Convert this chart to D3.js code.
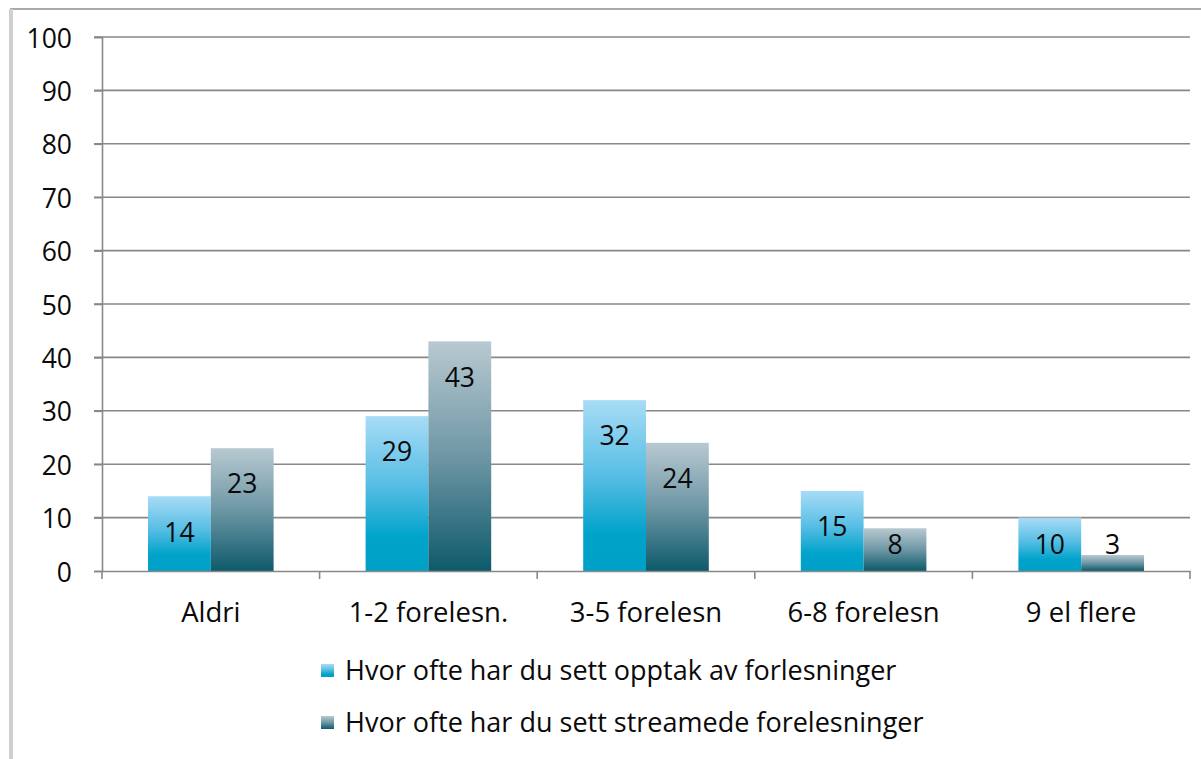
<!doctype html>
<html lang="no">
  <head>
    <meta charset="UTF-8" />
    <title>Forelesninger</title>
    <script src="https://d3js.org/d3.v7.min.js"></script>
    <style>
      body,
      html {
        margin: 0;
        padding: 0;
        background: #fff;
        overflow: hidden;
      }
      svg {
        display: block;
        font-family: "Open Sans", "Noto Sans", sans-serif;
      }
    </style>
  </head>
  <body>
    <svg id="chart" width="1201" height="759"></svg>
    <script>
      // chart data
      const categories = ["Aldri", "1-2 forelesn.", "3-5 forelesn", "6-8 forelesn", "9 el flere"];
      const seriesNames = [
        "Hvor ofte har du sett opptak av forlesninger",
        "Hvor ofte har du sett streamede forelesninger"
      ];
      const opptak = [14, 29, 32, 15, 10];
      const streamet = [23, 43, 24, 8, 3];
      const yTicks = [0, 10, 20, 30, 40, 50, 60, 70, 80, 90, 100];

      const svg = d3.select("#chart");
      const margin = { left: 102, right: 11, top: 37, bottom: 188 };
      const width = 1201;
      const height = 759;
      const fontSize = 26.5;

      // gradients for the two series
      const defs = svg.append("defs");
      const grads = [
        { id: "g0", stops: [["0%", "#a8dcf6"], ["45%", "#56bde4"], ["78%", "#00a3ca"], ["100%", "#00a0c6"]] },
        { id: "g1", stops: [["0%", "#b8c9d1"], ["50%", "#6e97a5"], ["100%", "#0d5a6b"]] }
      ];
      grads.forEach((g) => {
        const lg = defs
          .append("linearGradient")
          .attr("id", g.id)
          .attr("x1", 0)
          .attr("y1", 0)
          .attr("x2", 0)
          .attr("y2", 1);
        g.stops.forEach(([o, c]) => lg.append("stop").attr("offset", o).attr("stop-color", c));
      });

      // outer frame (top and left only visible)
      svg.append("line").attr("x1", 10).attr("x2", width).attr("y1", 9).attr("y2", 9)
        .attr("stroke", "#aaa").attr("stroke-width", 2);
      svg.append("line").attr("x1", 11).attr("x2", 11).attr("y1", 9).attr("y2", height)
        .attr("stroke", "#cfcfcf").attr("stroke-width", 4);

      const x0 = d3
        .scaleBand()
        .domain(categories)
        .range([margin.left, width - margin.right]);
      const x1 = d3
        .scaleBand()
        .domain([0, 1])
        .range([46, x0.bandwidth() - 46]);
      const y = d3
        .scaleLinear()
        .domain([0, 100])
        .range([height - margin.bottom, margin.top]);

      // gridlines
      svg
        .append("g")
        .selectAll("line")
        .data(yTicks.slice(1))
        .join("line")
        .attr("x1", margin.left - 8)
        .attr("x2", width - margin.right)
        .attr("y1", (d) => y(d))
        .attr("y2", (d) => y(d))
        .attr("stroke", "#888")
        .attr("stroke-width", 1.6);

      // bars
      const groups = svg
        .append("g")
        .selectAll("g")
        .data(categories)
        .join("g")
        .attr("transform", (d) => `translate(${x0(d)},0)`);

      const series = [opptak, streamet];
      groups.each(function (cat, i) {
        const g = d3.select(this);
        series.forEach((vals, s) => {
          const v = vals[i];
          g.append("rect")
            .attr("x", x1(s))
            .attr("width", x1.bandwidth())
            .attr("y", y(v))
            .attr("height", y(0) - y(v))
            .attr("fill", `url(#${grads[s].id})`);
          g.append("text")
            .attr("x", x1(s) + x1.bandwidth() / 2)
            .attr("y", Math.min(y(v) + 36, y(0) - 26))
            .attr("dy", "0.35em")
            .attr("text-anchor", "middle")
            .attr("font-size", fontSize)
            .attr("fill", "#0a0a0a")
            .text(v);
        });
      });

      // y axis
      const yAxis = svg
        .append("g")
        .attr("transform", `translate(${margin.left},0)`)
        .call(d3.axisLeft(y).tickValues(yTicks).tickSize(8).tickPadding(22));
      yAxis.select(".domain").attr("stroke", "#888").attr("stroke-width", 1.6);
      yAxis.selectAll(".tick line").attr("stroke", "#888").attr("stroke-width", 1.6);
      yAxis.selectAll("text").attr("font-size", fontSize).attr("fill", "#0a0a0a")
        .attr("dy", "0.38em")
        .attr("font-family", "Open Sans, sans-serif");

      // x axis
      const xAxis = svg
        .append("g")
        .attr("transform", `translate(0,${y(0)})`)
        .call(d3.axisBottom(x0).tickSize(0).tickPadding(31));
      xAxis.select(".domain").attr("stroke", "#888").attr("stroke-width", 1.6);
      xAxis.selectAll("text").attr("font-size", 27.5).attr("fill", "#0a0a0a")
        .attr("font-family", "Open Sans, sans-serif");
      // category boundary ticks
      xAxis
        .append("g")
        .selectAll("line")
        .data(categories.map((c) => x0(c)).concat([width - margin.right]))
        .join("line")
        .attr("x1", (d) => d)
        .attr("x2", (d) => d)
        .attr("y1", 0)
        .attr("y2", 8)
        .attr("stroke", "#888")
        .attr("stroke-width", 1.6);

      // legend
      const legend = svg
        .append("g")
        .selectAll("g")
        .data(seriesNames)
        .join("g")
        .attr("transform", (d, i) => `translate(321,${671 + i * 52})`);
      legend
        .append("rect")
        .attr("width", 13)
        .attr("height", 13)
        .attr("y", -7)
        .attr("fill", (d, i) => `url(#${grads[i].id})`);
      legend
        .append("text")
        .attr("x", 24)
        .attr("y", 0)
        .attr("dy", "0.35em")
        .attr("font-size", 27)
        .attr("fill", "#0a0a0a")
        .text((d) => d);
    </script>
  </body>
</html>
